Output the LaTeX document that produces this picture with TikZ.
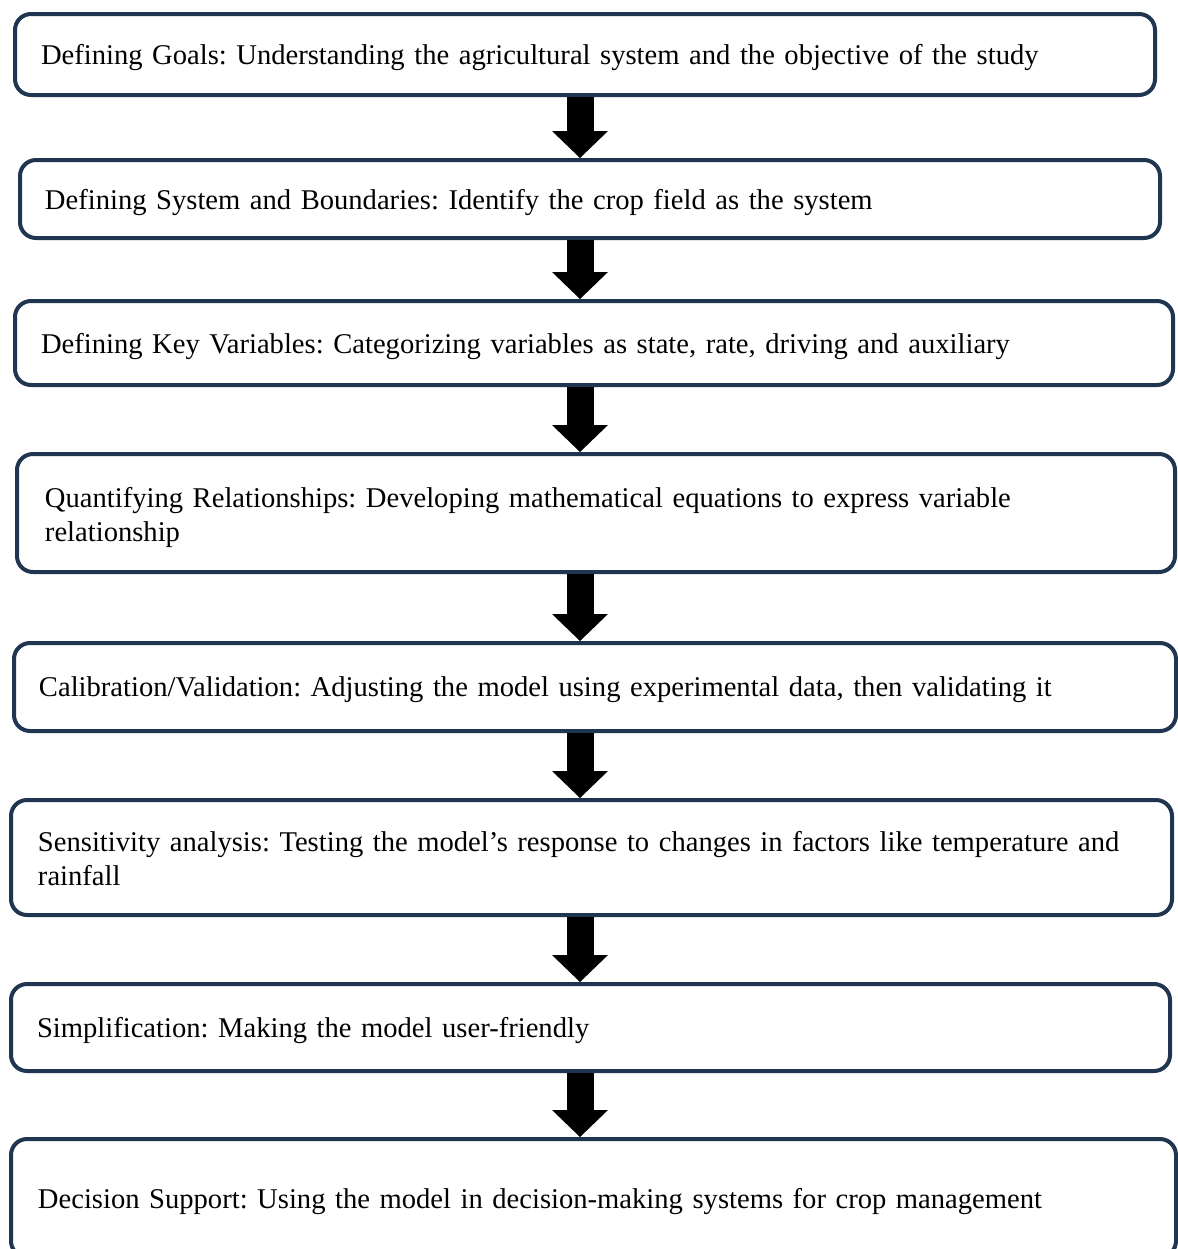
\documentclass[tikz,border=0pt]{standalone}
\usepackage{fontspec}
\setmainfont{Liberation Serif}
\usetikzlibrary{arrows.meta}
\frenchspacing

\definecolor{boxline}{HTML}{1F3550}

\tikzset{
    stepbox/.style={draw=boxline, line width=2pt, rounded corners=8pt, align=left,
        inner sep=0pt, text depth=0pt, font=\fontsize{14.3}{17}\selectfont},
    twoline/.style={text depth=16pt},
    flowarrow/.style={line width=13.5pt, -{Triangle[length=13.5pt, width=28pt, line width=0pt]}}
}

\begin{document}
\begin{tikzpicture}[x=0.5pt, y=-0.5pt]
    \useasboundingbox (0,0) rectangle (1178,1249);
    \coordinate (ax) at (580,0);

    % Steps
    \node[stepbox, minimum width=570pt, minimum height=40.5pt, text width=544pt] (goals) at (585,54.5)
        {Defining Goals: Understanding the agricultural system and the objective of the study};
    \node[stepbox, minimum width=570pt, minimum height=39pt, text width=545pt] (system) at (590,199)
        {Defining System and Boundaries: Identify the crop field as the system};
    \node[stepbox, minimum width=579pt, minimum height=42pt, text width=553pt] (variables) at (594,343)
        {Defining Key Variables: Categorizing variables as state, rate, driving and auxiliary};
    \node[stepbox, twoline, minimum width=579pt, minimum height=59pt, text width=551pt] (relations) at (596,513)
        {Quantifying Relationships: Developing mathematical equations to express variable\\relationship};
    \node[stepbox, minimum width=581pt, minimum height=44pt, text width=556pt] (calib) at (595,687)
        {Calibration/Validation: Adjusting the model using experimental data, then validating it};
    \node[stepbox, twoline, minimum width=580.5pt, minimum height=57.5pt, text width=553.5pt] (sensitivity) at (591.5,857.5)
        {Sensitivity analysis: Testing the model’s response to changes in factors like temperature and\\rainfall};
    \node[stepbox, minimum width=579.5pt, minimum height=43.5pt, text width=553.5pt] (simple) at (590.5,1027.5)
        {Simplification: Making the model user-friendly};
    \node[stepbox, minimum width=582.5pt, minimum height=59pt, text width=555.5pt] (decision) at (593.5,1198)
        {Decision Support: Using the model in decision-making systems for crop management};

    % Arrows
    \draw[flowarrow] (goals.south -| ax) -- (system.north -| ax);
    \draw[flowarrow] (system.south -| ax) -- (variables.north -| ax);
    \draw[flowarrow] (variables.south -| ax) -- (relations.north -| ax);
    \draw[flowarrow] (relations.south -| ax) -- (calib.north -| ax);
    \draw[flowarrow] (calib.south -| ax) -- (sensitivity.north -| ax);
    \draw[flowarrow] (sensitivity.south -| ax) -- (simple.north -| ax);
    \draw[flowarrow] (simple.south -| ax) -- (decision.north -| ax);
\end{tikzpicture}
\end{document}
